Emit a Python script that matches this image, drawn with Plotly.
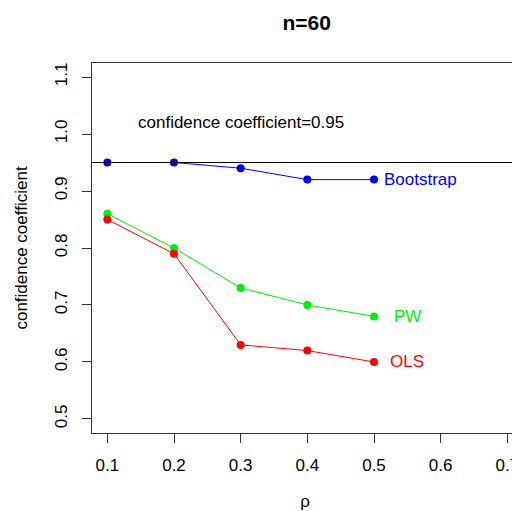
import plotly.graph_objects as go

rho = [0.1, 0.2, 0.3, 0.4, 0.5]
bootstrap = [0.95, 0.95, 0.94, 0.92, 0.92]
pw = [0.86, 0.80, 0.73, 0.70, 0.68]
ols = [0.85, 0.79, 0.63, 0.62, 0.60]
x_ticks = [0.1, 0.2, 0.3, 0.4, 0.5, 0.6, 0.7]
y_ticks = [0.5, 0.6, 0.7, 0.8, 0.9, 1.0, 1.1]
ref_level = 0.95

FONT = "Liberation Sans, Arial, sans-serif"
FS = 17
# page body has an 8px default margin, so the figure is sized to fill the remaining window
W, H = 512, 503

fig = go.Figure()
series = [("Bootstrap", bootstrap, "#0000ff"), ("PW", pw, "#00ee00"), ("OLS", ols, "#ff0000")]
for name, vals, col in series:
    fig.add_trace(go.Scatter(x=rho, y=vals, mode="lines+markers", name=name,
                             line=dict(color=col, width=1),
                             marker=dict(color=col, size=8)))

fig.add_shape(type="line", xref="paper", yref="y", x0=0, x1=1, y0=ref_level, y1=ref_level,
              line=dict(color="black", width=1))

anns = [
    dict(x=0.3, y=1.02, text="confidence coefficient=0.95", color="black"),
    dict(x=0.57, y=0.92, text="Bootstrap", color="#0000ff"),
    dict(x=0.55, y=0.68, text="PW", color="#00ee00"),
    dict(x=0.55, y=0.60, text="OLS", color="#ff0000"),
]
for a in anns:
    fig.add_annotation(x=a["x"], y=a["y"], text=a["text"], showarrow=False,
                       xref="x", yref="y", font=dict(color=a["color"], size=FS, family=FONT))

fig.update_layout(
    width=W, height=H,
    margin=dict(l=84, r=2, t=55, b=78, autoexpand=False),
    plot_bgcolor="white", paper_bgcolor="white",
    showlegend=False,
    font=dict(family=FONT, size=FS, color="black"),
    title=dict(text="<b>n=60</b>", x=(306.7 - 8) / W, xanchor="center", xref="container",
               y=1 - 14.5 / H, yanchor="middle", yref="container",
               font=dict(size=21, family=FONT, color="black")),
    xaxis=dict(range=[0.077, 0.716], tickvals=x_ticks, ticktext=[f"{v:.1f}" for v in x_ticks],
               automargin=False, ticklabelstandoff=8,
               showgrid=False, zeroline=False, showline=True, linecolor="#333", linewidth=1, mirror=True,
               ticks="outside", ticklen=9, tickcolor="#333",
               title=dict(text="ρ", font=dict(size=FS), standoff=22)),
    yaxis=dict(range=[0.4754, 1.1246], tickvals=y_ticks, ticktext=[f"{v:.1f}" for v in y_ticks],
               tickangle=-90, automargin=False, ticklabelstandoff=8,
               showgrid=False, zeroline=False, showline=True, linecolor="#333", linewidth=1, mirror=True,
               ticks="outside", ticklen=9, tickcolor="#333",
               title=dict(text="confidence coefficient", font=dict(size=FS), standoff=20)),
)

fig.write_html("out.html")
